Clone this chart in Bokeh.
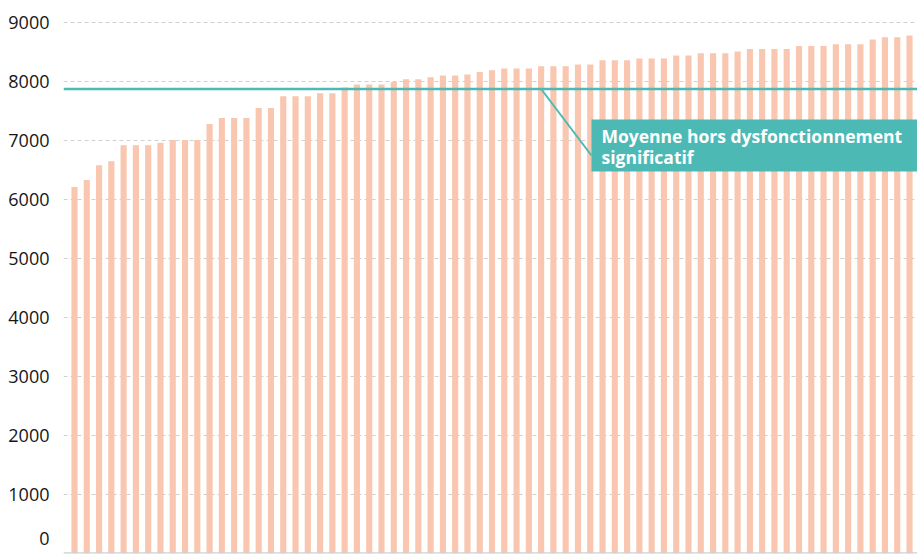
from bokeh.plotting import figure
from bokeh.models import ColumnDataSource, Span, BoxAnnotation, Label, FixedTicker, Range1d
from bokeh.embed import file_html
from bokeh.resources import INLINE

# ---- data ----
values = [6210, 6330, 6580, 6650, 6920, 6920, 6920, 6960, 7010, 7010,
          7010, 7280, 7380, 7380, 7380, 7550, 7550, 7750, 7750, 7750,
          7800, 7800, 7900, 7950, 7950, 7950, 7990, 8040, 8040, 8070,
          8100, 8100, 8120, 8160, 8190, 8220, 8220, 8220, 8260, 8260,
          8260, 8290, 8290, 8360, 8360, 8360, 8390, 8390, 8390, 8440,
          8440, 8480, 8480, 8480, 8510, 8550, 8550, 8550, 8550, 8600,
          8600, 8600, 8630, 8630, 8630, 8710, 8750, 8750, 8780]
ranks = list(range(1, len(values) + 1))
mean_value = 7873
mean_label = ["Moyenne hors dysfonctionnement", "significatif"]
y_ticks = [0, 1000, 2000, 3000, 4000, 5000, 6000, 7000, 8000, 9000]

BAR = "#F9C6AF"
TEAL = "#4DB9B5"

src = ColumnDataSource(dict(x=ranks, v=values))

X0, X1 = 0.104, 69.65
p = figure(width=917, height=557, output_backend="svg", toolbar_location=None,
           x_range=Range1d(X0, X1), y_range=Range1d(0, 9305),
           min_border_left=63, min_border_right=0, min_border_top=4,
           min_border_bottom=4)
p.outline_line_color = None
p.background_fill_color = "white"
p.border_fill_color = "white"

p.vbar(x="x", top="v", width=0.5, source=src, fill_color=BAR, line_color=None)

p.xaxis.visible = False
p.xgrid.grid_line_color = None
p.yaxis.ticker = FixedTicker(ticks=y_ticks)
p.yaxis.axis_line_color = None
p.yaxis.major_tick_line_color = None
p.yaxis.minor_tick_line_color = None
p.yaxis.major_label_text_font = "Open Sans"
p.yaxis.major_label_text_font_size = "18px"
p.yaxis.major_label_text_color = "#161616"
p.yaxis.major_label_standoff = 8
p.yaxis.major_label_text_line_height = 0.3
# raise the "0" label above the baseline so it stays inside the picture
p.yaxis.major_label_overrides = {0: "0\n"}
p.ygrid.grid_line_color = "#d0d0d0"
p.ygrid.grid_line_dash = "4 3"
p.ygrid.grid_line_width = 1

# bottom axis line
p.add_layout(Span(location=0, dimension="width", line_color="#d0d0d0", line_width=2.5))

# mean line
p.add_layout(Span(location=mean_value, dimension="width", line_color=TEAL, line_width=2.5))

# callout
p.segment(x0=[39.0], y0=[mean_value], x1=[43.1], y1=[6746], line_color=TEAL, line_width=2)
p.add_layout(BoxAnnotation(left=43.1, bottom=6475, top=7356, fill_color=TEAL,
                           fill_alpha=1, line_color=None, level="overlay"))
p.add_layout(Label(x=43.1, y=7068, x_offset=10, text=mean_label[0], text_color="white",
                   text_font="Open Sans", text_font_style="bold", text_font_size="17.5px",
                   text_baseline="middle", level="overlay"))
p.add_layout(Label(x=43.1, y=6712, x_offset=10, text=mean_label[1], text_color="white",
                   text_font="Open Sans", text_font_style="bold", text_font_size="17.5px",
                   text_baseline="middle", level="overlay"))

open("out.html", "w").write(file_html(p, INLINE))
